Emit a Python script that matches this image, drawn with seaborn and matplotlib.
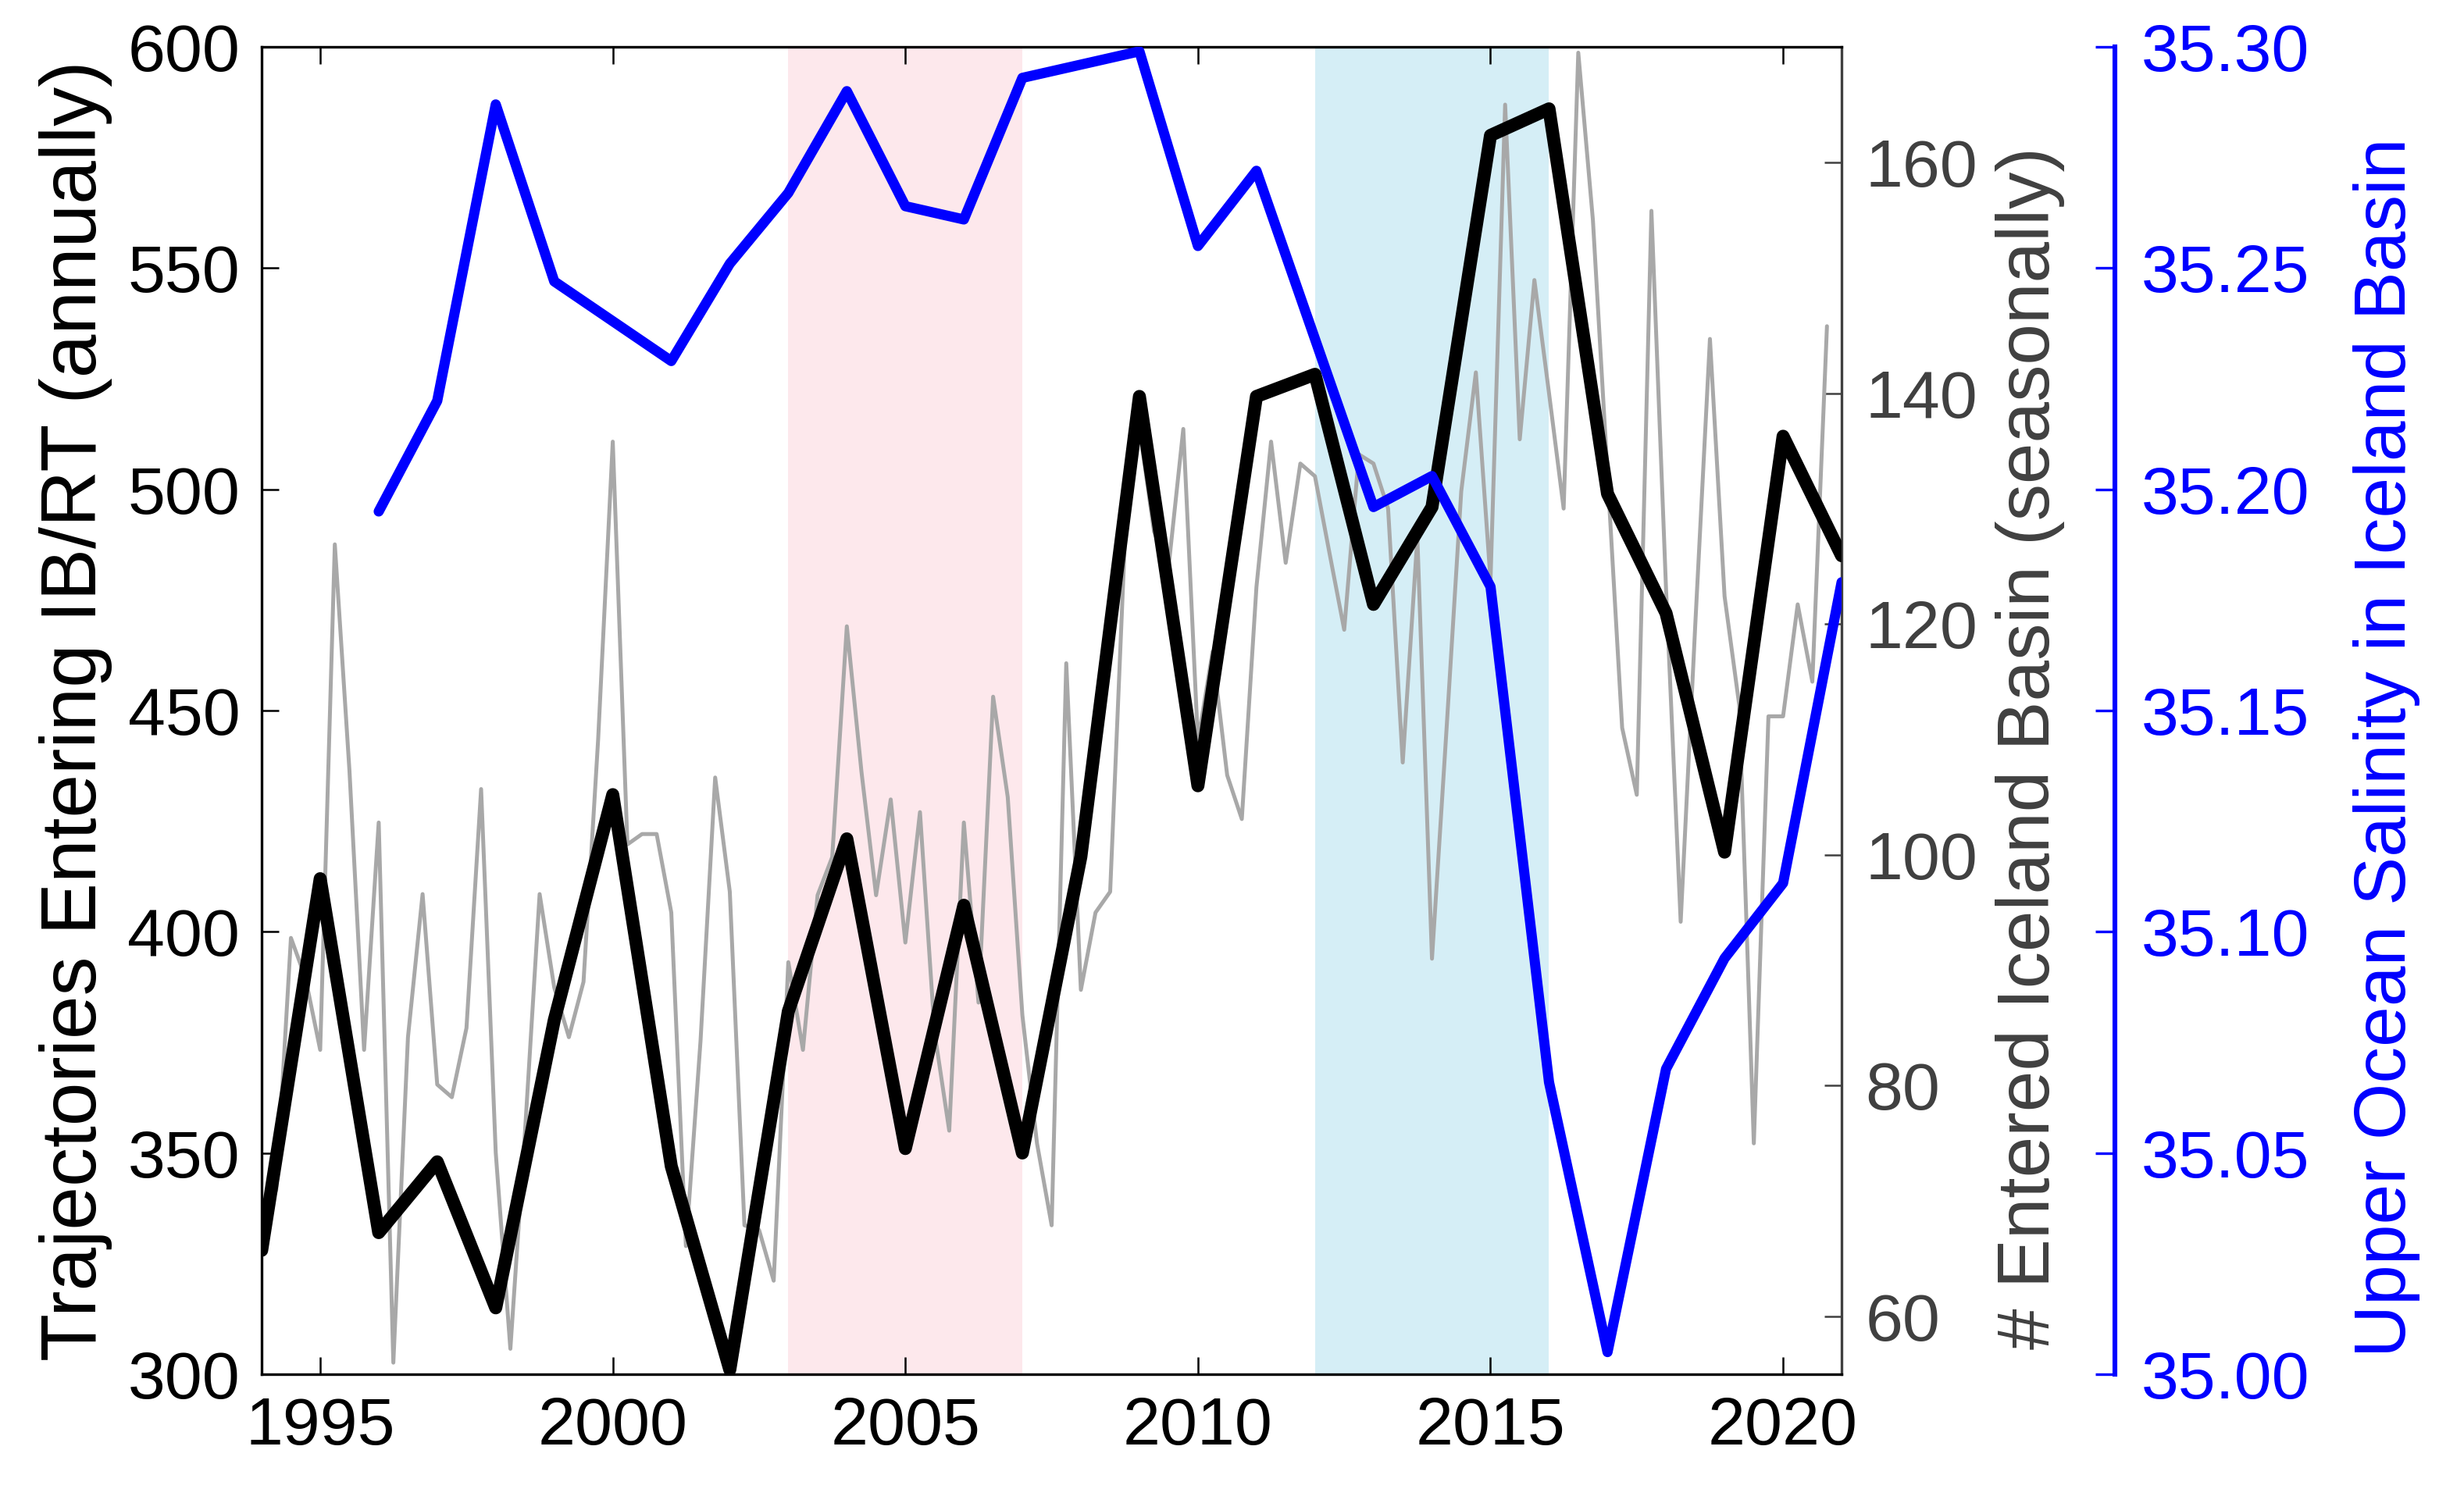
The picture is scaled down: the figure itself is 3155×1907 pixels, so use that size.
import numpy as np
import matplotlib
matplotlib.use("Agg")
import matplotlib.pyplot as plt
import seaborn as sns

# style
sns.set_style("ticks")
plt.rcParams['font.family'] = ['Liberation Sans', 'DejaVu Sans']
plt.rcParams['font.size'] = 31
plt.rcParams['text.color'] = 'black'
plt.rcParams['axes.labelcolor'] = 'black'
plt.rcParams['xtick.color'] = 'black'
plt.rcParams['ytick.color'] = 'black'

# annual trajectories entering IB/RT (left axis)
annual_years = list(range(1994, 2022))
annual_traj = [328, 412, 332, 348, 315, 380, 431, 347, 301, 382,
               421, 351, 406, 350, 417, 521, 433, 521, 526, 474,
               496, 580, 586, 499, 472, 418, 512, 485]

# seasonal counts entering Iceland Basin (middle axis), quarterly from 1994.00
seasonal_count = [67.5, 71, 92.8, 89.3, 83.1, 126.9, 107.3, 83.1, 102.8, 56.0,
                  84.2, 96.6, 80.1, 79.0, 85.0, 105.7, 74.2, 57.2, 76, 96.6,
                  88.5, 84.2, 89.0, 110, 135.8, 100.9, 101.8, 101.8, 95.0, 66.1,
                  83.9, 106.7, 96.8, 67.9, 67.5, 63.1, 90.7, 83.1, 96.5, 99.8,
                  119.8, 107.2, 96.5, 104.8, 92.4, 103.7, 84.6, 76.1, 102.8, 87.2,
                  113.7, 105.0, 86.1, 75.0, 67.9, 116.6, 88.3, 95.0, 96.8, 127,
                  137, 128, 125, 136.9, 109.8, 117.6, 106.9, 103.1, 123.2, 135.8,
                  125.3, 133.9, 132.8, 126.1, 119.5, 134.7, 133.9, 130, 108, 127.5,
                  91, 111, 131.5, 141.8, 123.8, 165, 136, 149.8, 140, 130,
                  169.5, 155, 133, 111, 105.2, 155.8, 123, 94.2, 120, 144.7,
                  122.4, 113, 75.0, 112.0, 112.0, 121.7, 115.0, 145.8]
seasonal_time = np.arange(len(seasonal_count)) / 4 + 1994

# upper ocean salinity in Iceland Basin (outer axis)
sal_years = list(range(1996, 2022))
salinity = [35.195, 35.220, 35.287, 35.247, 35.238, 35.229, 35.251, 35.267, 35.290, 35.264,
            35.261, 35.293, 35.296, 35.299, 35.255, 35.272, 35.234, 35.196, 35.203, 35.178,
            35.066, 35.005, 35.069, 35.094, 35.111, 35.179]

# highlighted periods
warm_period = (2003, 2007)
fresh_period = (2012, 2016)

gray_txt = '#404040'

fig = plt.figure(figsize=(15.775, 9.535), dpi=200)
ax = fig.add_axes([0.1062, 0.0771, 0.6412, 0.8914])
ax2 = ax.twinx()
ax3 = ax.twinx()

# draw order: shading+seasonal at the bottom, annual above, salinity on top
ax2.set_zorder(1)
ax.set_zorder(2)
ax3.set_zorder(3)
ax2.patch.set_visible(True)
ax2.patch.set_facecolor('white')
ax.patch.set_visible(False)
ax3.patch.set_visible(False)

ax2.axvspan(*warm_period, color='#FDE8EC', lw=0, zorder=0)
ax2.axvspan(*fresh_period, color='#D5EEF6', lw=0, zorder=0)

sns.lineplot(x=seasonal_time, y=seasonal_count, ax=ax2, color='#A8A8A8', lw=1.8)
sns.lineplot(x=annual_years, y=annual_traj, ax=ax, color='black', lw=6)
sns.lineplot(x=sal_years, y=salinity, ax=ax3, color='#0000FF', lw=4.7)

# left axis
ax.set_xlim(1994, 2021)
ax.set_ylim(300, 600)
ax.set_yticks(np.arange(300, 601, 50))
ax.set_xticks(np.arange(1995, 2021, 5))
ax.tick_params(axis='both', direction='in', length=8, width=0.9, pad=10, labelsize=31,
               colors='black')
ax.tick_params(axis='x', top=True)
ax.set_ylabel('Trajectories Entering IB/RT (annually)', fontsize=36, labelpad=7,
              color='black')
ax.set_xlabel('')
for s in ['left', 'bottom', 'top']:
    ax.spines[s].set_linewidth(1.2)
    ax.spines[s].set_color('black')
ax.spines['right'].set_visible(False)

# seasonal axis
ax2.set_ylim(55, 170)
ax2.set_yticks(np.arange(60, 161, 20))
ax2.tick_params(axis='y', direction='in', length=8, width=0.9, pad=11,
                labelsize=31, colors=gray_txt)
ax2.set_ylabel('# Entered Iceland Basin (seasonally)', fontsize=34, color=gray_txt,
               labelpad=8)
ax2.yaxis.label.set_y(0.472)
for s in ['left', 'bottom', 'top']:
    ax2.spines[s].set_visible(False)
ax2.spines['right'].set_color(gray_txt)
ax2.spines['right'].set_linewidth(1.2)

# salinity axis, offset to the right
ax3.set_ylim(35.0, 35.3)
ax3.set_yticks(np.arange(35.0, 35.31, 0.05))
ax3.yaxis.set_major_formatter(matplotlib.ticker.FormatStrFormatter('%.2f'))
ax3.spines['right'].set_position(('axes', 1.173))
for s in ['left', 'bottom', 'top']:
    ax3.spines[s].set_visible(False)
ax3.spines['right'].set_color('#0000FF')
ax3.spines['right'].set_linewidth(2.2)
ax3.tick_params(axis='y', direction='in', length=9, width=1.2, pad=12,
                labelsize=31, colors='#0000FF')
ax3.set_ylabel('Upper Ocean Salinity in Iceland Basin', fontsize=33.5, color='#0000FF',
               labelpad=20)
ax3.yaxis.label.set_y(0.472)

fig.savefig('out.png', dpi=200)
